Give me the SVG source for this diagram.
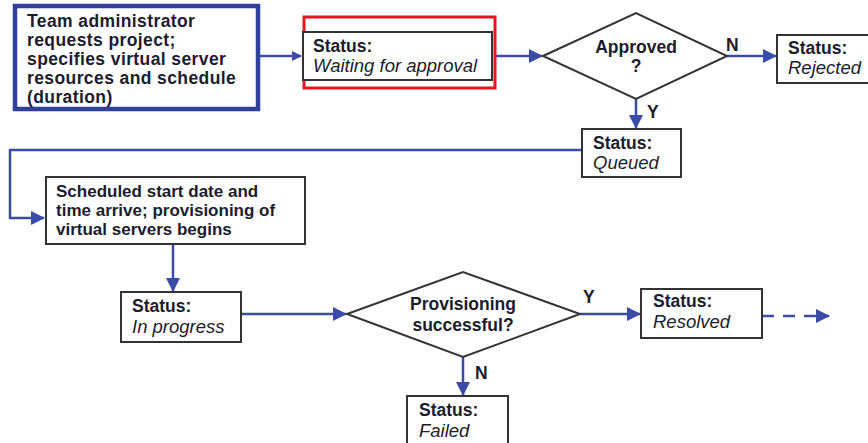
<svg xmlns="http://www.w3.org/2000/svg" width="868" height="443" viewBox="0 0 868 443">
<style>
.t{font-family:"Liberation Sans",Arial,sans-serif;font-size:17.5px;fill:#1c1c2c}
.b{font-weight:bold}
.i{font-style:italic;font-size:18.5px}
.m{text-anchor:middle}
.w{letter-spacing:0.4px}
.s{font-size:17px}
.box{fill:#fff;stroke:#333;stroke-width:2}
.c{fill:none;stroke:#3a4ca8;stroke-width:2.5}
</style>
<defs>
<marker id="ah" markerWidth="10" markerHeight="10" refX="9" refY="5" orient="auto" markerUnits="userSpaceOnUse" viewBox="0 0 10 10">
<path d="M0,0 L10,5 L0,10 z" fill="#3a4ca8"/>
</marker>
<marker id="ah2" markerWidth="14" markerHeight="14" refX="13" refY="7" orient="auto" markerUnits="userSpaceOnUse" viewBox="0 0 14 14">
<path d="M0,0 L14,7 L0,14 z" fill="#3a4ca8"/>
</marker>
</defs>
<rect width="868" height="443" fill="#fff"/>
<g id="connectors">
<path class="c" d="M259,56 L301,56" marker-end="url(#ah)"/>
<path class="c" d="M492,56 L542,56" marker-end="url(#ah2)"/>
<path class="c" d="M727,56 L776,56" marker-end="url(#ah2)"/>
<path class="c" d="M636,99 L636,128" marker-end="url(#ah2)"/>
<path class="c" d="M582,150 L10,150 L10,218 L44,218" marker-end="url(#ah2)"/>
<path class="c" d="M173,244 L173,291" marker-end="url(#ah2)"/>
<path class="c" d="M241,314 L346,314" marker-end="url(#ah2)"/>
<path class="c" d="M580,314 L640,314" marker-end="url(#ah2)"/>
<path class="c" d="M762,316 L829,316" stroke-dasharray="12,9" marker-end="url(#ah2)"/>
<path class="c" d="M463,357 L463,395" marker-end="url(#ah2)"/>
<text class="t b" x="726" y="51">N</text>
<text class="t b" x="647" y="118">Y</text>
<text class="t b" x="583" y="303">Y</text>
<text class="t b" x="475" y="379">N</text>
</g>
<g id="request">
<rect x="15" y="6" width="243" height="103" fill="#fff" stroke="#2e3f9e" stroke-width="4.5"/>
<text class="t b w" x="27" y="27">Team administrator</text>
<text class="t b w" x="27" y="46">requests project;</text>
<text class="t b w" x="27" y="65">specifies virtual server</text>
<text class="t b w" x="27" y="84">resources and schedule</text>
<text class="t b w" x="27" y="103">(duration)</text>
</g>
<g id="waiting">
<rect x="304" y="17" width="191" height="71" fill="#fff" stroke="#e8141e" stroke-width="3"/>
<rect class="box" x="303" y="32" width="189" height="48"/>
<text class="t b" x="313" y="52">Status:</text>
<text class="t i" x="313" y="72">Waiting for approval</text>
</g>
<g id="approved">
<path d="M543,56 L636,13 L727,56 L636,99 z" fill="#fff" stroke="#333" stroke-width="2"/>
<text class="t b m" x="636" y="53">Approved</text>
<text class="t b m" x="636" y="72">?</text>
</g>
<g id="rejected">
<rect class="box" x="777" y="35" width="95" height="48"/>
<text class="t b" x="788" y="54">Status:</text>
<text class="t i" x="788" y="74">Rejected</text>
</g>
<g id="queued">
<rect class="box" x="582" y="129" width="99" height="48"/>
<text class="t b" x="593" y="149">Status:</text>
<text class="t i" x="593" y="169">Queued</text>
</g>
<g id="scheduled">
<rect class="box" x="46" y="177" width="259" height="67"/>
<text class="t b s" x="56" y="197">Scheduled start date and</text>
<text class="t b s" x="56" y="216">time arrive; provisioning of</text>
<text class="t b s" x="56" y="235">virtual servers begins</text>
</g>
<g id="inprogress">
<rect class="box" x="121" y="292" width="120" height="50"/>
<text class="t b" x="132" y="312">Status:</text>
<text class="t i" x="132" y="333">In progress</text>
</g>
<g id="provisioning">
<path d="M347,314 L463,272 L580,314 L463,357 z" fill="#fff" stroke="#333" stroke-width="2"/>
<text class="t b m" x="463" y="310">Provisioning</text>
<text class="t b m" x="463" y="331">successful?</text>
</g>
<g id="resolved">
<rect class="box" x="641" y="289" width="121" height="49"/>
<text class="t b" x="653" y="307">Status:</text>
<text class="t i" x="653" y="328">Resolved</text>
</g>
<g id="failed">
<rect class="box" x="407" y="396" width="101" height="52"/>
<text class="t b" x="419" y="416">Status:</text>
<text class="t i" x="419" y="437">Failed</text>
</g>
</svg>
